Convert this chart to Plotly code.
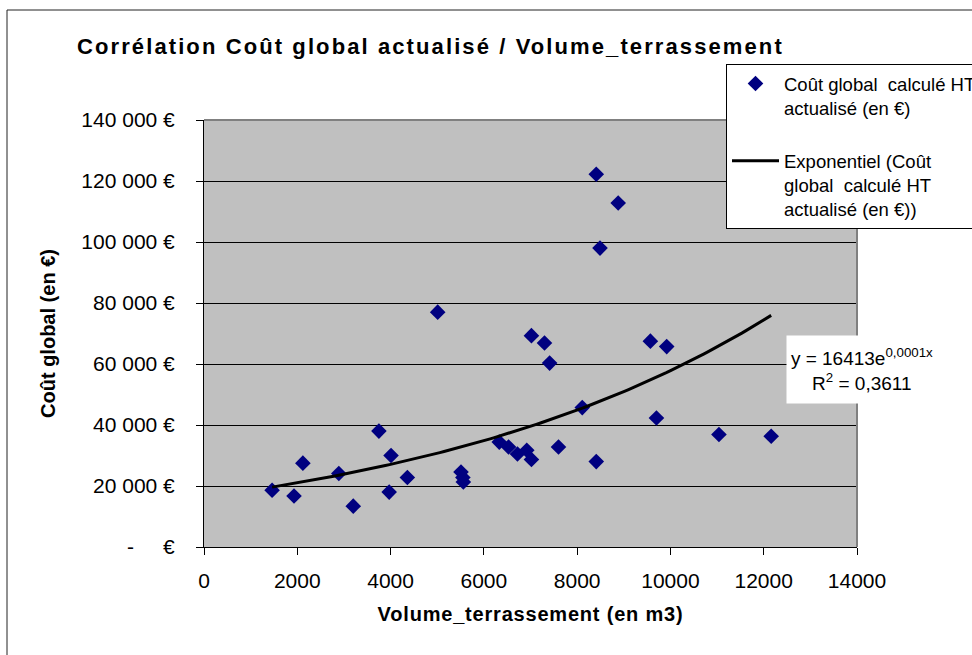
import numpy as np
import plotly.graph_objects as go

# ---- data ----
volume_m3 = [1460, 1930, 2120, 2890, 3200, 3750, 4010, 3970, 4360, 5010,
             5510, 5550, 5560, 6330, 6530, 6720, 6920, 7020, 7020, 7300,
             7410, 7600, 8110, 8410, 8490, 8410, 8880, 9570, 9700, 9920,
             11040, 12160]
cout_global = [18600, 16700, 27500, 24100, 13400, 38000, 30000, 18000, 22800, 77000,
               24600, 22800, 21300, 34400, 32800, 30500, 31700, 28700, 69300, 66900,
               60300, 32800, 45700, 122200, 98000, 28000, 112800, 67500, 42300, 65700,
               36900, 36300]

x_tick_vals = [0, 2000, 4000, 6000, 8000, 10000, 12000, 14000]
x_tick_text = ["0", "2000", "4000", "6000", "8000", "10000", "12000", "14000"]
y_tick_vals = [0, 20000, 40000, 60000, 80000, 100000, 120000, 140000]
y_tick_text = ["-\u00a0\u00a0\u00a0\u00a0\u00a0€", "20 000 €", "40 000 €", "60 000 €",
               "80 000 €", "100 000 €", "120 000 €", "140 000 €"]

title_text = "Corrélation Coût global actualisé / Volume_terrassement"
x_title = "Volume_terrassement (en m3)"
y_title = "Coût global (en €)"
series_name = "Coût global\u00a0 calculé HT<br>actualisé (en €)"
trend_name = "Exponentiel (Coût<br>global\u00a0 calculé HT<br>actualisé (en €))"
equation_text = "y = 16413e<sup>0,0001x</sup><br>R<sup>2</sup> = 0,3611"

FONT = "Liberation Sans, Arial, sans-serif"

# exponential trend fitted on the data (least squares on ln y)
xa = np.array(volume_m3, dtype=float)
ya = np.array(cout_global, dtype=float)
k, lna = np.polyfit(xa, np.log(ya), 1)
xt = np.linspace(xa.min(), xa.max(), 120)
yt = np.exp(lna) * np.exp(k * xt)

fig = go.Figure()
fig.add_trace(go.Scatter(
    x=volume_m3, y=cout_global, mode="markers", name=series_name,
    marker=dict(symbol="diamond", size=12, color="#000080", line=dict(width=0)),
    legendgroup="a"))
fig.add_trace(go.Scatter(
    x=xt, y=yt, mode="lines", name=trend_name,
    line=dict(color="black", width=3), legendgroup="b"))

fig.update_layout(
    width=972, height=655, autosize=False,
    margin=dict(l=204, r=115, t=120, b=108, autoexpand=False),
    paper_bgcolor="white", plot_bgcolor="#C0C0C0",
    font=dict(family=FONT, color="black", size=20),
    title=dict(
        text="<span style='letter-spacing:2.1px'>" + title_text + "</span>",
        font=dict(size=22, family=FONT, weight="bold", color="black"),
        x=77 / 972, xanchor="left", xref="container",
        y=1 - 46 / 655, yanchor="middle", yref="container"),
    showlegend=True,
    legend=dict(
        x=726 / 972, y=1 - 64 / 655, xref="container", yref="container",
        xanchor="left", yanchor="top",
        bgcolor="white", bordercolor="black", borderwidth=1,
        font=dict(size=18.5, family=FONT, color="black"),
        valign="top", traceorder="grouped", tracegroupgap=26, itemwidth=47),
    xaxis=dict(
        range=[0, 14000], tickmode="array", tickvals=x_tick_vals, ticktext=x_tick_text,
        showgrid=False, zeroline=False, showline=True, linecolor="black", linewidth=1,
        ticks="outside", ticklen=7, tickcolor="black", tickwidth=1,
        tickfont=dict(size=21, family=FONT, color="black"),
        ticklabelstandoff=8,
        title=dict(text="<span style='letter-spacing:0.8px'>" + x_title + "</span>",
                   font=dict(size=20, family=FONT, weight="bold", color="black"),
                   standoff=15),
        automargin=False),
    yaxis=dict(
        range=[0, 140000], tickmode="array", tickvals=y_tick_vals, ticktext=y_tick_text,
        showgrid=True, gridcolor="black", gridwidth=1,
        zeroline=False, showline=True, linecolor="black", linewidth=1,
        ticks="outside", ticklen=7, tickcolor="black", tickwidth=1,
        tickfont=dict(size=21, family=FONT, color="black"),
        ticklabelstandoff=17,
        title=dict(text=y_title,
                   font=dict(size=20, family=FONT, weight="bold", color="black"),
                   standoff=20),
        automargin=False),
    shapes=[
        dict(type="line", xref="paper", yref="paper", x0=0, x1=1, y0=1, y1=1,
             line=dict(color="#808080", width=2), layer="above"),
        dict(type="line", xref="paper", yref="paper", x0=1, x1=1, y0=0, y1=1,
             line=dict(color="#808080", width=2), layer="above"),
        dict(type="rect", xref="paper", yref="paper",
             x0=(7 - 204) / 653, x1=(990 - 204) / 653,
             y0=(547 - 670) / 427, y1=(547 - 10) / 427,
             line=dict(color="#222222", width=1), fillcolor="rgba(0,0,0,0)", layer="above"),
    ],
    annotations=[
        dict(text=equation_text, xref="paper", yref="paper",
             x=(862 - 204) / 653, y=(547 - 369) / 427, xanchor="center", yanchor="middle",
             showarrow=False, align="center", bgcolor="white",
             width=146, height=63, borderpad=2,
             font=dict(size=19, family=FONT, color="black")),
    ],
)

fig.write_html(
    "out.html",
    config={"responsive": False, "displayModeBar": False},
    post_script="document.body.style.margin='0';document.body.style.overflow='hidden';",
)
